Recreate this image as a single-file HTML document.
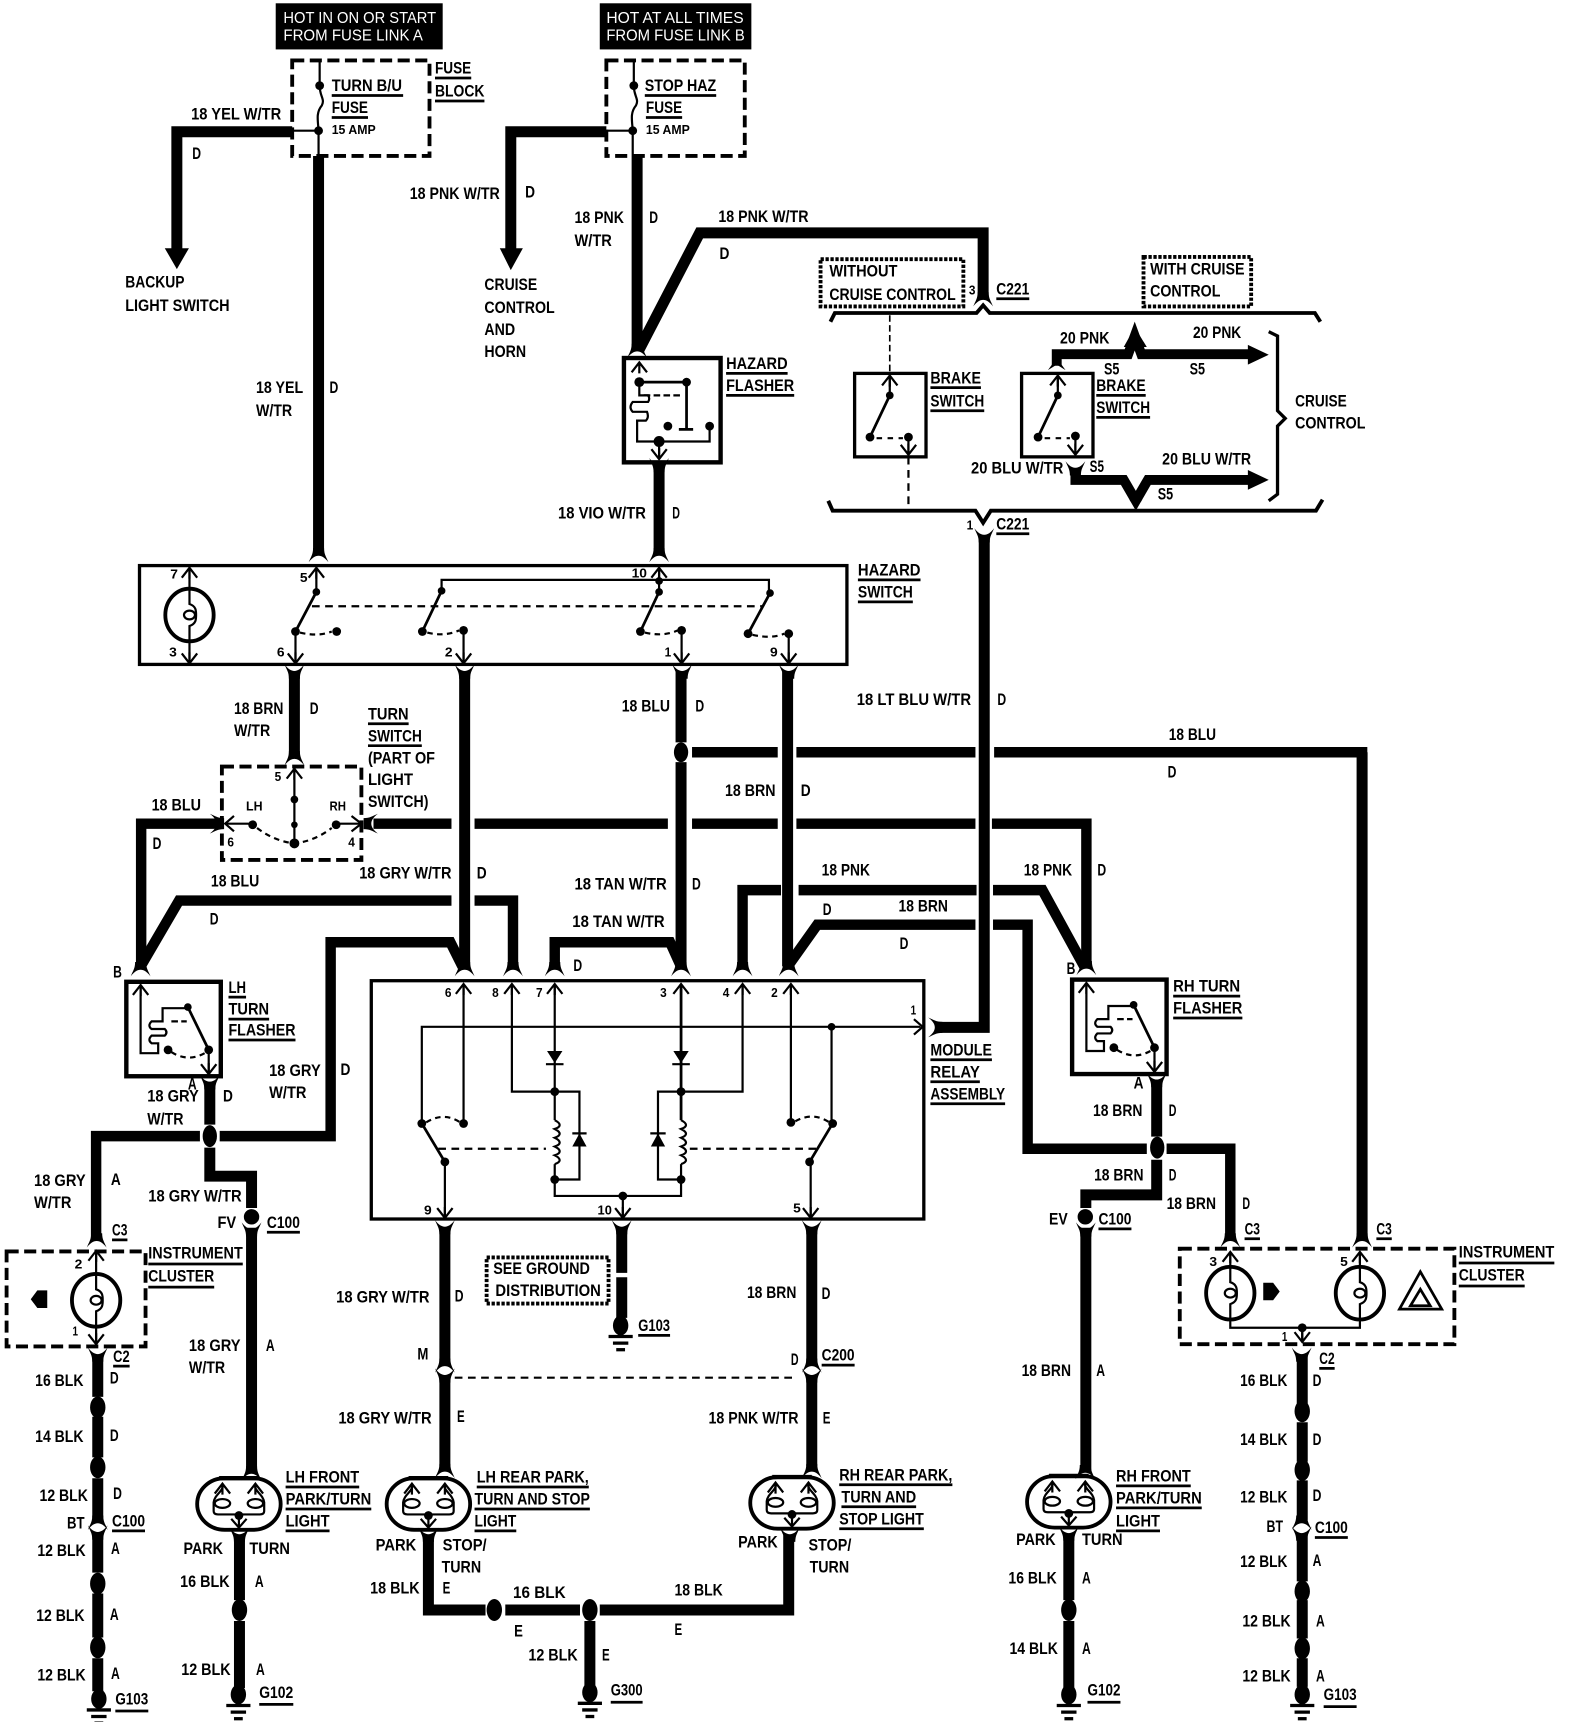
<!DOCTYPE html>
<html><head><meta charset="utf-8"><title>Turn and hazard wiring</title>
<style>
html,body{margin:0;padding:0;background:#fff}
svg{display:block}
text{font-family:"Liberation Sans",sans-serif;font-weight:700;font-size:15px;fill:#000}
text.s{font-size:12px}
text.w{fill:#fff;font-weight:400;font-size:14px}
.W{fill:none;stroke:#000;stroke-width:10;stroke-linejoin:miter}
.H{fill:none;stroke:#000;stroke-width:2}
.B{fill:none;stroke:#000;stroke-width:3.5}
.D{fill:none;stroke:#000;stroke-width:2;stroke-dasharray:7 5}
.Z{fill:none;stroke:#000;stroke-width:3.5;stroke-dasharray:11 5}
.Y{fill:none;stroke:#000;stroke-width:3.5;stroke-dasharray:3 1.5}
.U{fill:none;stroke:#000;stroke-width:2.5}
</style></head><body>
<svg xmlns="http://www.w3.org/2000/svg" width="1584" height="1722" viewBox="0 0 1442 1568" preserveAspectRatio="none">
<defs>
<path id="f" d="M-9,7C-7,2-5,0-5,-6H5C5,0 7,2 9,7C6,3 3,1 0,1C-3,1-6,3-9,7Z"/>
<path id="au" class="H" d="M-7,9L0,0L7,9M0,0V10"/>
<path id="ad" class="H" d="M-7,-9L0,0L7,-9M0,0V-10"/>
<g id="g"><ellipse rx="7" ry="9"/><path class="U" d="M-11,10H11M-7,16H7" style="stroke-width:3"/><path class="U" d="M-4,22H4" style="stroke-width:3"/></g>
<g id="b"><ellipse rx="22" ry="24" class="B"/><path class="H" d="M0,-24V-10C6,-8 6,-4 6,0C6,4 6,8 0,10V24"/><ellipse rx="5" ry="4" class="H"/></g>
<g id="l"><rect x="-38" y="0" width="76" height="47" rx="25" ry="24" class="B"/><path class="U" d="M-18,0H18" style="stroke-width:4"/>
<path class="H" d="M-15,5C-13,12-22,14-23,22V30Q-23,33-19,33H19Q23,33 23,30V22C22,14 13,12 15,5"/>
<ellipse cx="-15" cy="23" rx="7" ry="4" class="H"/><ellipse cx="15" cy="23" rx="7" ry="4" class="H"/>
<use href="#au" x="-15" y="5"/><use href="#au" x="15" y="5"/><circle cy="34" r="4"/><path class="H" d="M0,34V45M-7,37L0,45L7,37"/></g>
<g id="fl"><rect x="115" y="894" width="86" height="86" class="B" style="stroke-width:4"/>
<path class="H" d="M128,898V959H144V950H138Q134,947 138,943H150Q153,940 150,937H138Q134,934 138,930H148V918H171"/>
<use href="#au" x="128" y="897"/><path class="D" d="M156,930H170" style="stroke-dasharray:6 3"/><path class="U" d="M171,917L190,956"/><circle cx="171" cy="917" r="3.5"/><circle cx="190" cy="956" r="4"/><circle cx="153" cy="956" r="4"/>
<path class="D" d="M156,958Q172,968 188,958" style="stroke-dasharray:5 4"/><path class="H" d="M190,956V978"/><use href="#ad" x="190" y="978"/></g>
</defs>

<!-- top boxes -->
<rect x="251" y="3" width="152" height="42"/><rect x="546" y="3" width="138" height="42"/>
<text class="w" x="258" y="21" textLength="139" lengthAdjust="spacingAndGlyphs">HOT IN ON OR START</text>
<text class="w" x="258" y="37" textLength="127" lengthAdjust="spacingAndGlyphs">FROM FUSE LINK A</text>
<text class="w" x="552" y="21" textLength="125" lengthAdjust="spacingAndGlyphs">HOT AT ALL TIMES</text>
<text class="w" x="552" y="37" textLength="126" lengthAdjust="spacingAndGlyphs">FROM FUSE LINK B</text>

<!-- fuse blocks -->
<rect x="266" y="55" width="125" height="87" class="Z"/><rect x="552" y="55" width="126" height="87" class="Z"/>
<path class="H" d="M291,55V78C291,88 296,90 293,96C288,102 289,108 290,118V142M266,119H290"/>
<path class="H" d="M577,55V78C577,88 582,90 579,96C574,102 575,108 576,118V142M552,119H576"/>
<circle cx="291" cy="78" r="4"/><circle cx="290" cy="119" r="4"/><circle cx="577" cy="78" r="4"/><circle cx="576" cy="119" r="4"/>
<path class="U" d="M302,87H367M302,107H335M396,71H429M396,92H441M587,87H652M588,107H621"/>
<text x="302" y="83" textLength="64" lengthAdjust="spacingAndGlyphs">TURN B/U</text>
<text x="302" y="103" textLength="33" lengthAdjust="spacingAndGlyphs">FUSE</text>
<text class="s" x="302" y="122" textLength="40" lengthAdjust="spacingAndGlyphs">15 AMP</text>
<text x="396" y="67" textLength="33" lengthAdjust="spacingAndGlyphs">FUSE</text>
<text x="396" y="88" textLength="45" lengthAdjust="spacingAndGlyphs">BLOCK</text>
<text x="587" y="83" textLength="65" lengthAdjust="spacingAndGlyphs">STOP HAZ</text>
<text x="588" y="103" textLength="33" lengthAdjust="spacingAndGlyphs">FUSE</text>
<text class="s" x="588" y="122" textLength="40" lengthAdjust="spacingAndGlyphs">15 AMP</text>

<!-- thick wires -->
<path class="W" d="M266,120H161V228M290,142V503M552,120H465V228M580,142V318M582,318L637,212H895V272"/>
<path d="M150,226H172L161,245ZM455,226H476L465,246Z"/>
<path class="W" d="M600,426V503"/>
<path class="W" d="M268,612V688M423,612V880M620,612V676M620,694V880M717,612V880"/>
<!-- 18 blu top horizontal -->
<path class="W" style="stroke-width:9.5" d="M630,685H708M725,685H888M905,685H1240V1125"/>
<ellipse cx="620" cy="685" rx="6.5" ry="9"/>
<!-- 750 horizontal -->
<path class="W" style="stroke-width:9.5" d="M340,750H411M432,750H608M630,750H708M725,750H888M903,750H989V880M200,750H128.5V880"/>
<!-- 820 -->
<path class="W" style="stroke-width:9.5" d="M128,880L163,820H411M432,820H467V880"/>
<!-- 858 grey -->
<path class="W" style="stroke-width:9.5" d="M421,880L410,858H301V1034.5H200M182,1034.5H87.5V1128"/>
<path class="W" d="M191,985V1024M191,1045V1071H229V1100M229,1118V1340"/>
<ellipse cx="191" cy="1034.5" rx="6.5" ry="10"/><ellipse cx="229" cy="1108" rx="7" ry="7"/>
<!-- 18 tan -->
<path class="W" style="stroke-width:9.5" d="M505,880V858H610L620,880"/>
<!-- 18 pnk -->
<path class="W" style="stroke-width:9.5" d="M676,880V810.5H711M727,810.5H889M904,810.5H949L987,880"/>
<!-- 18 brn -->
<path class="W" style="stroke-width:9.5" d="M717,880L744,842H888M904,842H935.5V1046H1044M1062,1046H1120V1128"/>
<ellipse cx="1053.5" cy="1045" rx="6.5" ry="10"/>
<path class="W" d="M1053,985V1035M1053,1056V1088H988.5V1100M988.5,1118V1340"/>
<ellipse cx="988" cy="1108" rx="7" ry="7"/>
<!-- 18 lt blu -->
<path class="W" d="M896,487V935.5H853"/>
<path class="W" d="M1240,685V1128"/>

<!-- connectors -->
<use href="#f" transform="translate(290,505)"/><use href="#f" transform="translate(600,505)"/>
<use href="#f" transform="translate(580,319)"/>
<use href="#f" transform="translate(600,424) rotate(180)"/>
<use href="#f" transform="translate(268,612) rotate(180)"/><use href="#f" transform="translate(423,612) rotate(180)"/><use href="#f" transform="translate(621,612) rotate(180)"/><use href="#f" transform="translate(718,612) rotate(180)"/>
<use href="#f" transform="translate(268,690)"/>
<use href="#f" transform="translate(198,750) rotate(90)"/><use href="#f" transform="translate(337,750) rotate(-90)"/>
<use href="#f" transform="translate(128,882)"/><use href="#f" transform="translate(989,881)"/>
<use href="#f" transform="translate(423,882)"/><use href="#f" transform="translate(467,882)"/><use href="#f" transform="translate(505,882)"/><use href="#f" transform="translate(620,882)"/><use href="#f" transform="translate(676,882)"/><use href="#f" transform="translate(718,882)"/>
<use href="#f" transform="translate(852,935.5) rotate(90)"/>
<use href="#f" transform="translate(191,986) rotate(180)"/><use href="#f" transform="translate(1053,984) rotate(180)"/>
<use href="#f" transform="translate(88,1129)"/><use href="#f" transform="translate(1120,1129)"/><use href="#f" transform="translate(1240,1129)"/>
<use href="#f" transform="translate(229,1120) rotate(180)"/><use href="#f" transform="translate(988.5,1120) rotate(180)"/>
<use href="#f" transform="translate(405,1118) rotate(180)"/><use href="#f" transform="translate(566,1118) rotate(180)"/><use href="#f" transform="translate(739,1118) rotate(180)"/>
<use href="#f" transform="translate(89,1234) rotate(180)"/><use href="#f" transform="translate(1185,1234) rotate(180)"/>
<use href="#f" transform="translate(405,1243)"/><use href="#f" transform="translate(739,1243)"/>
<use href="#f" transform="translate(405,1253) rotate(180)"/><use href="#f" transform="translate(739,1253) rotate(180)"/>
<use href="#f" transform="translate(229,1341)"/><use href="#f" transform="translate(405,1339)"/><use href="#f" transform="translate(739,1339)"/><use href="#f" transform="translate(988,1340)"/>
<use href="#f" transform="translate(218,1398) rotate(180)"/><use href="#f" transform="translate(390,1398) rotate(180)"/><use href="#f" transform="translate(719,1398) rotate(180)"/><use href="#f" transform="translate(973,1397) rotate(180)"/>
<use href="#f" transform="translate(89,1386)"/><use href="#f" transform="translate(89,1396) rotate(180)"/>
<use href="#f" transform="translate(1185,1386)"/><use href="#f" transform="translate(1185,1397) rotate(180)"/>

<!-- hazard flasher -->
<rect x="568" y="326" width="88" height="95" class="B" style="stroke-width:4"/>
<use href="#au" x="582" y="330"/>
<path class="U" d="M582,348H625V390M618,391H631"/><circle cx="582" cy="348" r="4.5"/><circle cx="625" cy="348" r="4"/>
<path class="D" d="M586,360H622" style="stroke-dasharray:6 3"/>
<path class="H" d="M582,352V360H590Q592,363 590,366H576Q572,371 576,375H589Q591,380 588,383H580V402H646V390"/>
<circle cx="646" cy="388" r="4"/><circle cx="608" cy="388" r="4"/><circle cx="600" cy="402" r="5"/>
<path class="H" d="M600,402V418"/><use href="#ad" x="600" y="418"/>
<path class="U" d="M661,340H717M661,360H723"/>
<text x="661" y="336" textLength="56" lengthAdjust="spacingAndGlyphs">HAZARD</text>
<text x="661" y="356" textLength="62" lengthAdjust="spacingAndGlyphs">FLASHER</text>

<!-- cruise -->
<path class="B" d="M756,293L760,285H889L895,278L901,285H1197L1202,293"/>
<path class="B" d="M754,456L758,465H888L895,476L902,465H1198L1204,455"/>
<use href="#f" transform="translate(895,272)"/><use href="#f" transform="translate(896,488) rotate(180)"/>
<rect x="747" y="236" width="130" height="43" class="Y"/><rect x="1041" y="234" width="98" height="45" class="Y"/>
<text x="755" y="252" textLength="62" lengthAdjust="spacingAndGlyphs">WITHOUT</text>
<text x="755" y="273" textLength="115" lengthAdjust="spacingAndGlyphs">CRUISE CONTROL</text>
<text x="1047" y="250" textLength="86" lengthAdjust="spacingAndGlyphs">WITH CRUISE</text>
<text x="1047" y="270" textLength="64" lengthAdjust="spacingAndGlyphs">CONTROL</text>
<path class="D" d="M810,287V340" style="stroke-dasharray:6 3;stroke-width:1.5"/><path class="D" d="M827,416V464"/>
<rect x="778" y="340" width="65" height="76" class="H" style="stroke-width:3"/><rect x="930" y="340" width="65" height="76" class="H" style="stroke-width:3"/>
<use href="#au" x="810" y="342"/><use href="#au" x="963" y="342"/>
<path class="H" d="M810,342V360M963,342V360"/><path class="U" d="M810,360L792,398M963,360L945,398"/>
<circle cx="810" cy="360" r="3.5"/><circle cx="792" cy="398" r="4"/><circle cx="827" cy="398" r="4"/><circle cx="963" cy="360" r="3.5"/><circle cx="945" cy="398" r="4"/><circle cx="979" cy="397" r="4"/>
<path class="D" d="M798,399H822M951,399H974" style="stroke-dasharray:5 5"/>
<path class="H" d="M827,398V414M979,397V414"/><use href="#ad" x="827" y="414"/><use href="#ad" x="979" y="414"/>
<path class="W" style="stroke-width:9" d="M962,333V322.5H1027L1033,306L1039,322.5H1138"/>
<path d="M1136,314V332L1155,323ZM1023,316L1033,298L1044,316ZM954,337L962,326L970,337L962,332Z"/>
<path class="W" style="stroke-width:9" d="M979,426V437H1023L1034,456L1045,437H1138"/>
<path d="M1136,428V446L1155,437Z"/><ellipse cx="1034" cy="453" rx="6" ry="6"/>
<use href="#f" transform="translate(979,427) rotate(180)"/>
<path class="U" style="stroke-width:3" d="M1155,302L1163,306V374L1170,381L1163,388V450L1155,456"/>
<path class="U" d="M907,272H937M907,486H937M847,353H893M847,374H896M998,360H1043M998,380H1047"/>

<!-- hazard switch -->
<rect x="127" y="515" width="644" height="90" class="H" style="stroke-width:3"/>
<use href="#b" x="172.5" y="560"/><path class="H" d="M172.5,517V536M172.5,584V604"/><use href="#au" x="172.5" y="517"/><use href="#ad" x="172.5" y="604"/>
<path class="H" d="M288,517V539M600,517V539M402,538V528H700V540M269,575V604M422,574V604M620.5,574V604M718,577V604"/>
<use href="#au" x="288" y="517"/><use href="#au" x="600" y="517"/><use href="#ad" x="269" y="604"/><use href="#ad" x="422" y="604"/><use href="#ad" x="620.5" y="604"/><use href="#ad" x="718" y="604"/>
<path class="U" d="M288,539L269,575M402,538L384.5,575M600,539L583,575M701,540L681,577"/>
<g><circle cx="288" cy="539" r="3.5"/><circle cx="402" cy="538" r="3.5"/><circle cx="600" cy="539" r="3.5"/><circle cx="600" cy="529" r="3.5"/><circle cx="701" cy="540" r="3.5"/>
<circle cx="269" cy="575" r="4"/><circle cx="306.5" cy="575" r="4"/><circle cx="384.5" cy="575" r="4"/><circle cx="422" cy="574" r="4"/><circle cx="583" cy="575" r="4"/><circle cx="620.5" cy="574" r="4"/><circle cx="681" cy="577" r="4"/><circle cx="718" cy="577" r="4"/></g>
<path class="D" d="M284,552H694"/>
<path class="D" style="stroke-dasharray:5 4" d="M273,576Q290,580 302,575M389,576Q404,580 418,574M587,576Q604,580 617,574M685,578Q702,582 714,577"/>
<text class="s" x="155" y="527" textLength="7" lengthAdjust="spacingAndGlyphs">7</text>
<text class="s" x="154" y="598" textLength="7" lengthAdjust="spacingAndGlyphs">3</text>
<text class="s" x="273" y="530" textLength="7" lengthAdjust="spacingAndGlyphs">5</text>
<text class="s" x="575" y="526" textLength="14" lengthAdjust="spacingAndGlyphs">10</text>
<text class="s" x="252" y="598" textLength="7" lengthAdjust="spacingAndGlyphs">6</text>
<text class="s" x="405" y="598" textLength="7" lengthAdjust="spacingAndGlyphs">2</text>
<text class="s" x="605" y="598" textLength="6" lengthAdjust="spacingAndGlyphs">1</text>
<text class="s" x="701" y="598" textLength="7" lengthAdjust="spacingAndGlyphs">9</text>
<path class="U" d="M781,528H838M781,548H831"/>

<!-- turn switch -->
<rect x="202" y="698" width="127" height="85" class="Z"/>
<path class="H" d="M268,700V768M230,750H206M306,750H328"/><use href="#au" x="268" y="700"/>
<path class="H" d="M213,743L205,750L213,757M320,743L329,750L320,757"/>
<circle cx="268" cy="728" r="3.5"/><circle cx="268" cy="751" r="3"/><circle cx="268" cy="768" r="4.5"/><circle cx="230" cy="751" r="4"/><circle cx="306" cy="751" r="4"/>
<path class="D" style="stroke-dasharray:5 4" d="M234,754Q250,766 268,768Q286,766 302,754"/>
<path class="U" d="M335,659H372M335,679H384"/>

<!-- flashers -->
<use href="#fl"/><use href="#fl" transform="translate(861,-2)"/>
<path class="U" d="M208,908H224M208,928H245M208,947H269M1068,907H1129M1068,927H1131"/>

<!-- module relay -->
<rect x="338" y="893" width="503" height="217" class="H" style="stroke-width:3"/>
<path class="H" d="M422,896V1023M466,896V994H527.5V1074H505M505,896V994V1020M620,896V1020M676,896V994H599V1074H620M720,896V1022M384,1023V935H838M757,935V1023M405,1058V1108M738,1058V1108M505,1060V1089H620V1060M567,1089V1108" />
<path class="H" d="M505,1020c6,3 6,6 0,8c6,3 6,6 0,8c6,3 6,6 0,8c6,3 6,6 0,8c6,3 6,6 0,8M620,1020c6,3 6,6 0,8c6,3 6,6 0,8c6,3 6,6 0,8c6,3 6,6 0,8c6,3 6,6 0,8"/>
<path class="U" d="M620,896V1020"/>
<use href="#au" x="422" y="896"/><use href="#au" x="466" y="896"/><use href="#au" x="505" y="896"/><use href="#au" x="620" y="896"/><use href="#au" x="676" y="896"/><use href="#au" x="720" y="896"/>
<path class="H" d="M832,928L840,935L832,942"/>
<use href="#ad" x="405" y="1109"/><use href="#ad" x="567" y="1109"/><use href="#ad" x="738" y="1109"/>
<path d="M498,957H512L505,968ZM613,957H627L620,968ZM521,1044H534L527.5,1032ZM592.5,1044H605.5L599,1032Z"/>
<path class="H" d="M497,969H513M612,969H628M521,1032H534M592,1032H606"/>
<circle cx="505" cy="994" r="4"/><circle cx="620" cy="994" r="4"/><circle cx="505" cy="1074" r="4"/><circle cx="620" cy="1074" r="4"/><circle cx="567" cy="1089" r="4"/><circle cx="757" cy="935" r="3.5"/>
<circle cx="384" cy="1023" r="4"/><circle cx="422" cy="1023" r="4"/><circle cx="720" cy="1022" r="4"/><circle cx="758" cy="1023" r="4"/><circle cx="405" cy="1058" r="4"/><circle cx="737" cy="1058" r="4"/>
<path class="U" d="M384,1023L405,1058M758,1023L737,1058"/>
<path class="D" d="M399,1046H497M628,1046H743"/>
<path class="D" style="stroke-dasharray:5 4" d="M388,1022Q404,1012 419,1022M724,1021Q740,1012 755,1022"/>
<text class="s" x="405" y="908" textLength="6" lengthAdjust="spacingAndGlyphs">6</text>
<text class="s" x="448" y="908" textLength="6" lengthAdjust="spacingAndGlyphs">8</text>
<text class="s" x="488" y="908" textLength="6" lengthAdjust="spacingAndGlyphs">7</text>
<text class="s" x="601" y="908" textLength="6" lengthAdjust="spacingAndGlyphs">3</text>
<text class="s" x="658" y="908" textLength="6" lengthAdjust="spacingAndGlyphs">4</text>
<text class="s" x="702" y="908" textLength="6" lengthAdjust="spacingAndGlyphs">2</text>
<text class="s" x="829" y="924" textLength="5" lengthAdjust="spacingAndGlyphs">1</text>
<text class="s" x="386" y="1106" textLength="7" lengthAdjust="spacingAndGlyphs">9</text>
<text class="s" x="544" y="1106" textLength="13" lengthAdjust="spacingAndGlyphs">10</text>
<text class="s" x="722" y="1104" textLength="7" lengthAdjust="spacingAndGlyphs">5</text>
<path class="U" d="M847,965H903M847,985H892M847,1005H915"/>

<!-- below module wires -->
<path class="W" d="M405,1120V1240M405,1255V1335M566,1120V1159M566,1163V1200M739,1120V1240M739,1255V1335"/>
<use href="#g" x="565" y="1207"/>
<path class="D" d="M414,1254.5H722"/>
<rect x="443" y="1145" width="111" height="42" class="Y"/>
<path class="U" d="M581,1216H610M748,1243H778"/>

<!-- instrument clusters -->
<rect x="6" y="1139.5" width="126.5" height="86.5" class="Z"/>
<use href="#b" x="87.5" y="1184"/><path class="H" d="M87.5,1140V1160M87.5,1208V1223"/><use href="#au" x="87.5" y="1139"/><use href="#ad" x="87.5" y="1224"/>
<path d="M28,1183L34,1175H43V1191H34Z"/>
<rect x="1074" y="1137" width="250" height="87" class="Z"/>
<use href="#b" x="1120" y="1177.5"/><use href="#b" x="1238" y="1177.5"/>
<path class="H" d="M1120,1140V1154M1238,1140V1154M1120,1201V1209H1238V1201M1185.5,1209V1221"/><use href="#au" x="1120" y="1140"/><use href="#au" x="1238" y="1140"/>
<use href="#ad" x="1185.5" y="1222"/><circle cx="1185.5" cy="1209" r="4"/>
<path d="M1150,1168H1159L1165,1176L1159,1184H1150Z"/>
<path class="H" d="M1293,1158L1274,1192H1312.5ZM1293,1174L1284,1189H1302Z" style="stroke-width:2.5"/>
<path class="U" d="M135,1151H221M135,1172H195M1328,1150H1415M1328,1171H1388M102,1129H116M243,1122H273M1000,1119H1030M1133,1128H1147M1253,1128H1267"/>

<!-- ground chains -->
<path class="W" d="M89,1235V1272M89,1290V1327M89,1346V1382M89,1396V1432M89,1451V1491M89,1510V1540"/>
<ellipse cx="89" cy="1281.5" rx="7" ry="10"/><ellipse cx="89" cy="1336" rx="7" ry="10"/><ellipse cx="89" cy="1442" rx="7" ry="10"/><ellipse cx="89" cy="1500" rx="7" ry="10"/><use href="#g" x="90" y="1547"/>
<path class="W" d="M218,1398V1457M218,1476V1537"/><ellipse cx="218" cy="1466" rx="7" ry="10"/><use href="#g" x="217" y="1543"/>
<path class="W" d="M390,1398V1471M385,1466H442M460,1466H528M546,1466H718V1398M537,1476V1535"/>
<ellipse cx="450" cy="1466" rx="7" ry="10"/><ellipse cx="537" cy="1466" rx="7" ry="10"/><use href="#g" x="537" y="1541"/>
<path class="W" d="M973,1397V1457M973,1476V1537"/><ellipse cx="973" cy="1466" rx="7" ry="10"/><use href="#g" x="973" y="1543"/>
<path class="W" d="M1185.5,1235V1278M1185.5,1295V1331M1185.5,1348V1384M1185.5,1397V1440M1185.5,1457V1492M1185.5,1510V1536"/>
<ellipse cx="1185.5" cy="1285" rx="7" ry="10"/><ellipse cx="1185.5" cy="1338.5" rx="7" ry="10"/><ellipse cx="1185.5" cy="1449" rx="7" ry="10"/><ellipse cx="1185.5" cy="1501" rx="7" ry="10"/><use href="#g" x="1185.5" y="1543"/>

<!-- lights -->
<use href="#l" x="217.5" y="1346"/><use href="#l" x="390" y="1346"/><use href="#l" x="721" y="1345"/><use href="#l" x="973" y="1344"/>
<path class="U" d="M260,1354H327M260,1374H338M260,1394H300M434,1354H536M432,1374H537M432,1394H470M764,1352H867M766,1372H834M764,1392H841M1016,1353H1084M1016,1373H1094M1016,1394H1056"/>
<path class="U" d="M103,1244H118M102,1394H132M105,1558H135M236,1552H267M556,1550H585M990,1550H1020M1201,1246H1215M1197,1400H1227M1205,1554H1235"/>

<!-- labels upper -->
<text x="174" y="109" textLength="82" lengthAdjust="spacingAndGlyphs">18 YEL W/TR</text>
<text x="175" y="145" textLength="8" lengthAdjust="spacingAndGlyphs">D</text>
<text x="114" y="262" textLength="54" lengthAdjust="spacingAndGlyphs">BACKUP</text>
<text x="114" y="283" textLength="95" lengthAdjust="spacingAndGlyphs">LIGHT SWITCH</text>
<text x="233" y="358" textLength="43" lengthAdjust="spacingAndGlyphs">18 YEL</text>
<text x="233" y="379" textLength="33" lengthAdjust="spacingAndGlyphs">W/TR</text>
<text x="300" y="358" textLength="8" lengthAdjust="spacingAndGlyphs">D</text>
<text x="373" y="181" textLength="82" lengthAdjust="spacingAndGlyphs">18 PNK W/TR</text>
<text x="478" y="180" textLength="9" lengthAdjust="spacingAndGlyphs">D</text>
<text x="441" y="264" textLength="48" lengthAdjust="spacingAndGlyphs">CRUISE</text>
<text x="441" y="285" textLength="64" lengthAdjust="spacingAndGlyphs">CONTROL</text>
<text x="441" y="305" textLength="28" lengthAdjust="spacingAndGlyphs">AND</text>
<text x="441" y="325" textLength="38" lengthAdjust="spacingAndGlyphs">HORN</text>
<text x="523" y="203" textLength="45" lengthAdjust="spacingAndGlyphs">18 PNK</text>
<text x="523" y="224" textLength="34" lengthAdjust="spacingAndGlyphs">W/TR</text>
<text x="591" y="203" textLength="8" lengthAdjust="spacingAndGlyphs">D</text>
<text x="654" y="202" textLength="82" lengthAdjust="spacingAndGlyphs">18 PNK W/TR</text>
<text x="655" y="236" textLength="9" lengthAdjust="spacingAndGlyphs">D</text>
<text x="508" y="472" textLength="80" lengthAdjust="spacingAndGlyphs">18 VIO W/TR</text>
<text x="612" y="472" textLength="7" lengthAdjust="spacingAndGlyphs">D</text>
<text class="s" x="882" y="268" textLength="6" lengthAdjust="spacingAndGlyphs">3</text>
<text x="907" y="268" textLength="30" lengthAdjust="spacingAndGlyphs">C221</text>
<text class="s" x="880" y="482" textLength="6" lengthAdjust="spacingAndGlyphs">1</text>
<text x="907" y="482" textLength="30" lengthAdjust="spacingAndGlyphs">C221</text>
<text x="847" y="349" textLength="46" lengthAdjust="spacingAndGlyphs">BRAKE</text>
<text x="847" y="370" textLength="49" lengthAdjust="spacingAndGlyphs">SWITCH</text>
<text x="998" y="356" textLength="45" lengthAdjust="spacingAndGlyphs">BRAKE</text>
<text x="998" y="376" textLength="49" lengthAdjust="spacingAndGlyphs">SWITCH</text>
<text x="965" y="313" textLength="45" lengthAdjust="spacingAndGlyphs">20 PNK</text>
<text x="1086" y="308" textLength="44" lengthAdjust="spacingAndGlyphs">20 PNK</text>
<text x="1005" y="341" textLength="14" lengthAdjust="spacingAndGlyphs">S5</text>
<text x="1083" y="341" textLength="14" lengthAdjust="spacingAndGlyphs">S5</text>
<text x="884" y="431" textLength="84" lengthAdjust="spacingAndGlyphs">20 BLU W/TR</text>
<text x="992" y="430" textLength="13" lengthAdjust="spacingAndGlyphs">S5</text>
<text x="1058" y="423" textLength="81" lengthAdjust="spacingAndGlyphs">20 BLU W/TR</text>
<text x="1054" y="455" textLength="14" lengthAdjust="spacingAndGlyphs">S5</text>
<text x="1179" y="370" textLength="47" lengthAdjust="spacingAndGlyphs">CRUISE</text>
<text x="1179" y="390" textLength="64" lengthAdjust="spacingAndGlyphs">CONTROL</text>
<text x="781" y="524" textLength="57" lengthAdjust="spacingAndGlyphs">HAZARD</text>
<text x="781" y="544" textLength="50" lengthAdjust="spacingAndGlyphs">SWITCH</text>
<text x="213" y="650" textLength="45" lengthAdjust="spacingAndGlyphs">18 BRN</text>
<text x="213" y="670" textLength="33" lengthAdjust="spacingAndGlyphs">W/TR</text>
<text x="282" y="650" textLength="8" lengthAdjust="spacingAndGlyphs">D</text>
<text x="335" y="655" textLength="37" lengthAdjust="spacingAndGlyphs">TURN</text>
<text x="335" y="675" textLength="49" lengthAdjust="spacingAndGlyphs">SWITCH</text>
<text x="335" y="695" textLength="61" lengthAdjust="spacingAndGlyphs">(PART OF</text>
<text x="335" y="715" textLength="41" lengthAdjust="spacingAndGlyphs">LIGHT</text>
<text x="335" y="735" textLength="55" lengthAdjust="spacingAndGlyphs">SWITCH)</text>
<text x="566" y="648" textLength="44" lengthAdjust="spacingAndGlyphs">18 BLU</text>
<text x="633" y="648" textLength="8" lengthAdjust="spacingAndGlyphs">D</text>
<text x="780" y="642" textLength="104" lengthAdjust="spacingAndGlyphs">18 LT BLU W/TR</text>
<text x="908" y="642" textLength="8" lengthAdjust="spacingAndGlyphs">D</text>
<text x="1064" y="674" textLength="43" lengthAdjust="spacingAndGlyphs">18 BLU</text>
<text x="1063" y="708" textLength="8" lengthAdjust="spacingAndGlyphs">D</text>
<text x="660" y="725" textLength="46" lengthAdjust="spacingAndGlyphs">18 BRN</text>
<text x="729" y="725" textLength="9" lengthAdjust="spacingAndGlyphs">D</text>
<text x="138" y="738" textLength="45" lengthAdjust="spacingAndGlyphs">18 BLU</text>
<text x="139" y="773" textLength="8" lengthAdjust="spacingAndGlyphs">D</text>
<text class="s" x="224" y="738" textLength="15" lengthAdjust="spacingAndGlyphs">LH</text>
<text class="s" x="300" y="738" textLength="15" lengthAdjust="spacingAndGlyphs">RH</text>
<text class="s" x="250" y="711" textLength="6" lengthAdjust="spacingAndGlyphs">5</text>
<text class="s" x="207" y="771" textLength="6" lengthAdjust="spacingAndGlyphs">6</text>
<text class="s" x="317" y="771" textLength="6" lengthAdjust="spacingAndGlyphs">4</text>
<text x="192" y="807" textLength="44" lengthAdjust="spacingAndGlyphs">18 BLU</text>
<text x="191" y="842" textLength="8" lengthAdjust="spacingAndGlyphs">D</text>
<text x="327" y="800" textLength="84" lengthAdjust="spacingAndGlyphs">18 GRY W/TR</text>
<text x="434" y="800" textLength="9" lengthAdjust="spacingAndGlyphs">D</text>
<text x="523" y="810" textLength="84" lengthAdjust="spacingAndGlyphs">18 TAN W/TR</text>
<text x="630" y="810" textLength="8" lengthAdjust="spacingAndGlyphs">D</text>
<text x="521" y="844" textLength="84" lengthAdjust="spacingAndGlyphs">18 TAN W/TR</text>
<text x="522" y="884" textLength="8" lengthAdjust="spacingAndGlyphs">D</text>
<text x="748" y="797" textLength="44" lengthAdjust="spacingAndGlyphs">18 PNK</text>
<text x="749" y="833" textLength="8" lengthAdjust="spacingAndGlyphs">D</text>
<text x="818" y="830" textLength="45" lengthAdjust="spacingAndGlyphs">18 BRN</text>
<text x="819" y="864" textLength="8" lengthAdjust="spacingAndGlyphs">D</text>
<text x="932" y="797" textLength="44" lengthAdjust="spacingAndGlyphs">18 PNK</text>
<text x="999" y="797" textLength="8" lengthAdjust="spacingAndGlyphs">D</text>
<text x="103" y="890" textLength="8" lengthAdjust="spacingAndGlyphs">B</text>
<text x="208" y="904" textLength="16" lengthAdjust="spacingAndGlyphs">LH</text>
<text x="208" y="924" textLength="37" lengthAdjust="spacingAndGlyphs">TURN</text>
<text x="208" y="943" textLength="61" lengthAdjust="spacingAndGlyphs">FLASHER</text>
<text x="971" y="887" textLength="8" lengthAdjust="spacingAndGlyphs">B</text>
<text x="1068" y="903" textLength="61" lengthAdjust="spacingAndGlyphs">RH TURN</text>
<text x="1068" y="923" textLength="63" lengthAdjust="spacingAndGlyphs">FLASHER</text>
<text x="847" y="961" textLength="56" lengthAdjust="spacingAndGlyphs">MODULE</text>
<text x="847" y="981" textLength="45" lengthAdjust="spacingAndGlyphs">RELAY</text>
<text x="847" y="1001" textLength="68" lengthAdjust="spacingAndGlyphs">ASSEMBLY</text>
<text x="245" y="980" textLength="47" lengthAdjust="spacingAndGlyphs">18 GRY</text>
<text x="245" y="1000" textLength="34" lengthAdjust="spacingAndGlyphs">W/TR</text>
<text x="310" y="979" textLength="9" lengthAdjust="spacingAndGlyphs">D</text>
<text x="171" y="992" textLength="8" lengthAdjust="spacingAndGlyphs">A</text>
<text x="134" y="1003" textLength="47" lengthAdjust="spacingAndGlyphs">18 GRY</text>
<text x="134" y="1024" textLength="33" lengthAdjust="spacingAndGlyphs">W/TR</text>
<text x="203" y="1003" textLength="9" lengthAdjust="spacingAndGlyphs">D</text>
<text x="135" y="1094" textLength="85" lengthAdjust="spacingAndGlyphs">18 GRY W/TR</text>
<text x="31" y="1080" textLength="47" lengthAdjust="spacingAndGlyphs">18 GRY</text>
<text x="31" y="1100" textLength="34" lengthAdjust="spacingAndGlyphs">W/TR</text>
<text x="101" y="1079" textLength="9" lengthAdjust="spacingAndGlyphs">A</text>
<text x="102" y="1125" textLength="14" lengthAdjust="spacingAndGlyphs">C3</text>
<text x="198" y="1118" textLength="17" lengthAdjust="spacingAndGlyphs">FV</text>
<text x="243" y="1118" textLength="30" lengthAdjust="spacingAndGlyphs">C100</text>
<text x="1032" y="991" textLength="9" lengthAdjust="spacingAndGlyphs">A</text>
<text x="995" y="1016" textLength="45" lengthAdjust="spacingAndGlyphs">18 BRN</text>
<text x="1064" y="1016" textLength="7" lengthAdjust="spacingAndGlyphs">D</text>
<text x="996" y="1075" textLength="45" lengthAdjust="spacingAndGlyphs">18 BRN</text>
<text x="1064" y="1075" textLength="7" lengthAdjust="spacingAndGlyphs">D</text>
<text x="1062" y="1101" textLength="45" lengthAdjust="spacingAndGlyphs">18 BRN</text>
<text x="1131" y="1101" textLength="7" lengthAdjust="spacingAndGlyphs">D</text>
<text x="955" y="1115" textLength="17" lengthAdjust="spacingAndGlyphs">EV</text>
<text x="1000" y="1115" textLength="30" lengthAdjust="spacingAndGlyphs">C100</text>
<text x="1133" y="1124" textLength="14" lengthAdjust="spacingAndGlyphs">C3</text>
<text x="1253" y="1124" textLength="14" lengthAdjust="spacingAndGlyphs">C3</text>
<text x="135" y="1146" textLength="86" lengthAdjust="spacingAndGlyphs">INSTRUMENT</text>
<text x="135" y="1167" textLength="60" lengthAdjust="spacingAndGlyphs">CLUSTER</text>
<text x="1328" y="1145" textLength="87" lengthAdjust="spacingAndGlyphs">INSTRUMENT</text>
<text x="1328" y="1166" textLength="60" lengthAdjust="spacingAndGlyphs">CLUSTER</text>
<text class="s" x="68" y="1155" textLength="7" lengthAdjust="spacingAndGlyphs">2</text>
<text class="s" x="66" y="1216" textLength="5" lengthAdjust="spacingAndGlyphs">1</text>
<text class="s" x="1101" y="1153" textLength="7" lengthAdjust="spacingAndGlyphs">3</text>
<text class="s" x="1220" y="1153" textLength="7" lengthAdjust="spacingAndGlyphs">5</text>
<text class="s" x="1167" y="1221" textLength="5" lengthAdjust="spacingAndGlyphs">1</text>
<text x="449" y="1160" textLength="88" lengthAdjust="spacingAndGlyphs">SEE GROUND</text>
<text x="451" y="1180" textLength="96" lengthAdjust="spacingAndGlyphs">DISTRIBUTION</text>
<text x="581" y="1212" textLength="29" lengthAdjust="spacingAndGlyphs">G103</text>
<text x="306" y="1186" textLength="85" lengthAdjust="spacingAndGlyphs">18 GRY W/TR</text>
<text x="414" y="1185" textLength="8" lengthAdjust="spacingAndGlyphs">D</text>
<text x="680" y="1182" textLength="45" lengthAdjust="spacingAndGlyphs">18 BRN</text>
<text x="748" y="1183" textLength="8" lengthAdjust="spacingAndGlyphs">D</text>
<text x="172" y="1230" textLength="47" lengthAdjust="spacingAndGlyphs">18 GRY</text>
<text x="172" y="1250" textLength="33" lengthAdjust="spacingAndGlyphs">W/TR</text>
<text x="242" y="1230" textLength="8" lengthAdjust="spacingAndGlyphs">A</text>
<text x="380" y="1238" textLength="10" lengthAdjust="spacingAndGlyphs">M</text>
<text x="720" y="1243" textLength="7" lengthAdjust="spacingAndGlyphs">D</text>
<text x="748" y="1239" textLength="30" lengthAdjust="spacingAndGlyphs">C200</text>
<text x="930" y="1253" textLength="45" lengthAdjust="spacingAndGlyphs">18 BRN</text>
<text x="998" y="1253" textLength="8" lengthAdjust="spacingAndGlyphs">A</text>
<text x="308" y="1296" textLength="85" lengthAdjust="spacingAndGlyphs">18 GRY W/TR</text>
<text x="416" y="1295" textLength="7" lengthAdjust="spacingAndGlyphs">E</text>
<text x="645" y="1296" textLength="82" lengthAdjust="spacingAndGlyphs">18 PNK W/TR</text>
<text x="749" y="1296" textLength="7" lengthAdjust="spacingAndGlyphs">E</text>

<!-- left chain labels -->
<text x="103" y="1240" textLength="15" lengthAdjust="spacingAndGlyphs">C2</text>
<text x="32" y="1262" textLength="44" lengthAdjust="spacingAndGlyphs">16 BLK</text>
<text x="100" y="1260" textLength="8" lengthAdjust="spacingAndGlyphs">D</text>
<text x="32" y="1313" textLength="44" lengthAdjust="spacingAndGlyphs">14 BLK</text>
<text x="100" y="1312" textLength="8" lengthAdjust="spacingAndGlyphs">D</text>
<text x="36" y="1367" textLength="44" lengthAdjust="spacingAndGlyphs">12 BLK</text>
<text x="103" y="1365" textLength="8" lengthAdjust="spacingAndGlyphs">D</text>
<text x="61" y="1392" textLength="16" lengthAdjust="spacingAndGlyphs">BT</text>
<text x="102" y="1390" textLength="30" lengthAdjust="spacingAndGlyphs">C100</text>
<text x="34" y="1417" textLength="44" lengthAdjust="spacingAndGlyphs">12 BLK</text>
<text x="101" y="1415" textLength="8" lengthAdjust="spacingAndGlyphs">A</text>
<text x="33" y="1476" textLength="44" lengthAdjust="spacingAndGlyphs">12 BLK</text>
<text x="100" y="1475" textLength="8" lengthAdjust="spacingAndGlyphs">A</text>
<text x="34" y="1530" textLength="44" lengthAdjust="spacingAndGlyphs">12 BLK</text>
<text x="101" y="1529" textLength="8" lengthAdjust="spacingAndGlyphs">A</text>
<text x="105" y="1552" textLength="30" lengthAdjust="spacingAndGlyphs">G103</text>

<!-- light labels -->
<text x="260" y="1350" textLength="67" lengthAdjust="spacingAndGlyphs">LH FRONT</text>
<text x="260" y="1370" textLength="78" lengthAdjust="spacingAndGlyphs">PARK/TURN</text>
<text x="260" y="1390" textLength="40" lengthAdjust="spacingAndGlyphs">LIGHT</text>
<text x="167" y="1415" textLength="36" lengthAdjust="spacingAndGlyphs">PARK</text>
<text x="227" y="1415" textLength="37" lengthAdjust="spacingAndGlyphs">TURN</text>
<text x="164" y="1445" textLength="45" lengthAdjust="spacingAndGlyphs">16 BLK</text>
<text x="232" y="1445" textLength="8" lengthAdjust="spacingAndGlyphs">A</text>
<text x="165" y="1525" textLength="45" lengthAdjust="spacingAndGlyphs">12 BLK</text>
<text x="233" y="1525" textLength="8" lengthAdjust="spacingAndGlyphs">A</text>
<text x="236" y="1546" textLength="31" lengthAdjust="spacingAndGlyphs">G102</text>
<text x="434" y="1350" textLength="102" lengthAdjust="spacingAndGlyphs">LH REAR PARK,</text>
<text x="432" y="1370" textLength="105" lengthAdjust="spacingAndGlyphs">TURN AND STOP</text>
<text x="432" y="1390" textLength="38" lengthAdjust="spacingAndGlyphs">LIGHT</text>
<text x="342" y="1412" textLength="37" lengthAdjust="spacingAndGlyphs">PARK</text>
<text x="403" y="1412" textLength="40" lengthAdjust="spacingAndGlyphs">STOP/</text>
<text x="402" y="1432" textLength="36" lengthAdjust="spacingAndGlyphs">TURN</text>
<text x="337" y="1451" textLength="45" lengthAdjust="spacingAndGlyphs">18 BLK</text>
<text x="403" y="1451" textLength="7" lengthAdjust="spacingAndGlyphs">E</text>
<text x="467" y="1455" textLength="48" lengthAdjust="spacingAndGlyphs">16  BLK</text>
<text x="614" y="1453" textLength="44" lengthAdjust="spacingAndGlyphs">18 BLK</text>
<text x="468" y="1490" textLength="8" lengthAdjust="spacingAndGlyphs">E</text>
<text x="614" y="1489" textLength="7" lengthAdjust="spacingAndGlyphs">E</text>
<text x="481" y="1512" textLength="45" lengthAdjust="spacingAndGlyphs">12 BLK</text>
<text x="548" y="1512" textLength="7" lengthAdjust="spacingAndGlyphs">E</text>
<text x="556" y="1544" textLength="29" lengthAdjust="spacingAndGlyphs">G300</text>
<text x="764" y="1348" textLength="103" lengthAdjust="spacingAndGlyphs">RH REAR PARK,</text>
<text x="766" y="1368" textLength="68" lengthAdjust="spacingAndGlyphs">TURN AND</text>
<text x="764" y="1388" textLength="77" lengthAdjust="spacingAndGlyphs">STOP LIGHT</text>
<text x="672" y="1409" textLength="36" lengthAdjust="spacingAndGlyphs">PARK</text>
<text x="736" y="1412" textLength="39" lengthAdjust="spacingAndGlyphs">STOP/</text>
<text x="737" y="1432" textLength="36" lengthAdjust="spacingAndGlyphs">TURN</text>
<text x="1016" y="1349" textLength="68" lengthAdjust="spacingAndGlyphs">RH FRONT</text>
<text x="1016" y="1369" textLength="78" lengthAdjust="spacingAndGlyphs">PARK/TURN</text>
<text x="1016" y="1390" textLength="40" lengthAdjust="spacingAndGlyphs">LIGHT</text>
<text x="925" y="1407" textLength="36" lengthAdjust="spacingAndGlyphs">PARK</text>
<text x="985" y="1407" textLength="37" lengthAdjust="spacingAndGlyphs">TURN</text>
<text x="918" y="1442" textLength="44" lengthAdjust="spacingAndGlyphs">16 BLK</text>
<text x="985" y="1442" textLength="8" lengthAdjust="spacingAndGlyphs">A</text>
<text x="919" y="1506" textLength="44" lengthAdjust="spacingAndGlyphs">14 BLK</text>
<text x="985" y="1506" textLength="8" lengthAdjust="spacingAndGlyphs">A</text>
<text x="990" y="1544" textLength="30" lengthAdjust="spacingAndGlyphs">G102</text>

<!-- right chain labels -->
<text x="1201" y="1242" textLength="14" lengthAdjust="spacingAndGlyphs">C2</text>
<text x="1129" y="1262" textLength="43" lengthAdjust="spacingAndGlyphs">16 BLK</text>
<text x="1195" y="1262" textLength="8" lengthAdjust="spacingAndGlyphs">D</text>
<text x="1129" y="1316" textLength="43" lengthAdjust="spacingAndGlyphs">14 BLK</text>
<text x="1195" y="1316" textLength="8" lengthAdjust="spacingAndGlyphs">D</text>
<text x="1129" y="1368" textLength="43" lengthAdjust="spacingAndGlyphs">12 BLK</text>
<text x="1195" y="1367" textLength="8" lengthAdjust="spacingAndGlyphs">D</text>
<text x="1153" y="1395" textLength="15" lengthAdjust="spacingAndGlyphs">BT</text>
<text x="1197" y="1396" textLength="30" lengthAdjust="spacingAndGlyphs">C100</text>
<text x="1129" y="1427" textLength="43" lengthAdjust="spacingAndGlyphs">12 BLK</text>
<text x="1195" y="1426" textLength="8" lengthAdjust="spacingAndGlyphs">A</text>
<text x="1131" y="1481" textLength="44" lengthAdjust="spacingAndGlyphs">12 BLK</text>
<text x="1198" y="1481" textLength="8" lengthAdjust="spacingAndGlyphs">A</text>
<text x="1131" y="1531" textLength="44" lengthAdjust="spacingAndGlyphs">12 BLK</text>
<text x="1198" y="1531" textLength="8" lengthAdjust="spacingAndGlyphs">A</text>
<text x="1205" y="1548" textLength="30" lengthAdjust="spacingAndGlyphs">G103</text>
</svg>
</body></html>
